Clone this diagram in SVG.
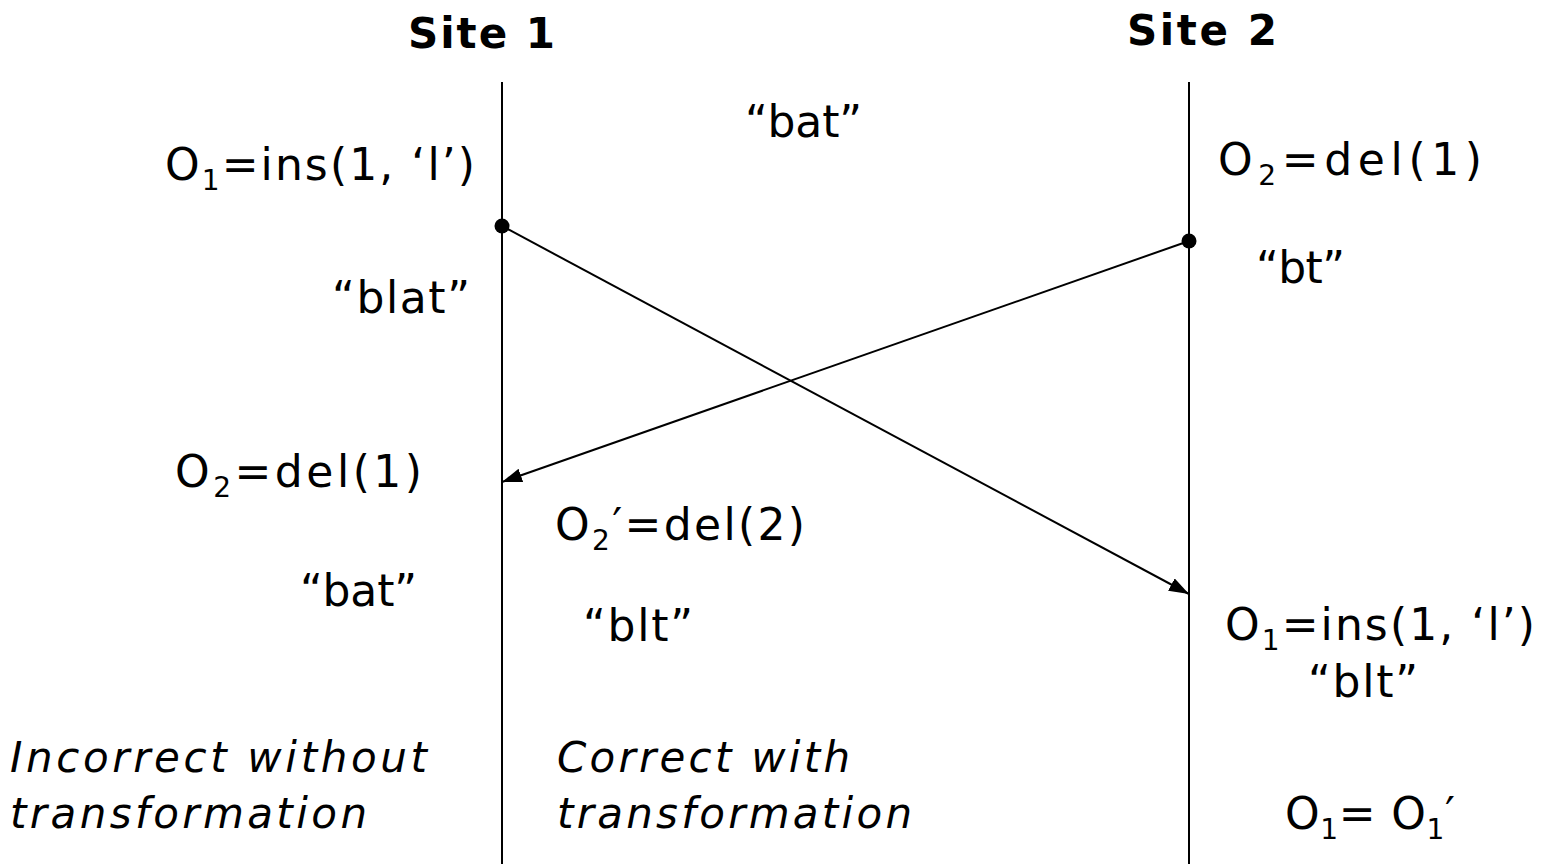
<svg xmlns="http://www.w3.org/2000/svg" width="1543" height="864" viewBox="0 0 1543 864">
  <defs>
    <marker id="arrow" viewBox="0 0 20 14" refX="20" refY="7" markerWidth="20" markerHeight="14" markerUnits="userSpaceOnUse" orient="auto">
      <path d="M0,0 L20,7 L0,14 Z" fill="#000"/>
    </marker>
    <style>
      text { font-family: "DejaVu Sans", Verdana, sans-serif; font-size: 44px; fill: #000; }
      .title { font-weight: bold; font-size: 42px; }
      .note { font-style: italic; font-size: 42px; }
      .sub { font-size: 28px; }
      .timeline { stroke: #000; stroke-width: 2; }
      .msg { stroke: #000; stroke-width: 2; fill: none; marker-end: url(#arrow); }
    </style>
  </defs>
  <rect width="1543" height="864" fill="#fff"/>

  <!-- site timelines -->
  <g id="site1">
    <text class="title" x="408" y="48" textLength="147">Site 1</text>
    <line class="timeline" x1="502" y1="82" x2="502" y2="864"/>
    <circle cx="502" cy="226" r="7.5"/>
  </g>
  <g id="site2">
    <text class="title" x="1127" y="45" textLength="150">Site 2</text>
    <line class="timeline" x1="1189" y1="82" x2="1189" y2="864"/>
    <circle cx="1189" cy="241" r="7.5"/>
  </g>

  <!-- messages between sites -->
  <g id="connectors">
    <line class="msg" x1="502" y1="226" x2="1189" y2="594"/>
    <line class="msg" x1="1189" y1="241" x2="502" y2="482"/>
  </g>

  <g id="initial-state">
    <text x="745" y="137" textLength="117">“bat”</text>
  </g>

  <!-- site 1 side -->
  <g id="site1-ops">
    <text x="165" y="180" textLength="310">O<tspan class="sub" dy="10">1</tspan><tspan dy="-10">=ins(1, ‘l’)</tspan></text>
    <text x="332" y="313" textLength="138">“blat”</text>
    <text x="175" y="487" textLength="247">O<tspan class="sub" dy="10">2</tspan><tspan dy="-10">=del(1)</tspan></text>
    <text x="300" y="606" textLength="117">“bat”</text>
    <text class="note" x="10" y="772" textLength="417">Incorrect without</text>
    <text class="note" x="10" y="828" textLength="357">transformation</text>
  </g>

  <!-- transformed result at site 1 -->
  <g id="site1-transformed">
    <text x="555" y="540" textLength="250">O<tspan class="sub" dy="10">2</tspan><tspan dy="-10">′=del(2)</tspan></text>
    <text x="583" y="641" textLength="110">“blt”</text>
    <text class="note" x="557" y="772" textLength="293">Correct with</text>
    <text class="note" x="557" y="828" textLength="355">transformation</text>
  </g>

  <!-- site 2 side -->
  <g id="site2-ops">
    <text x="1218" y="175" textLength="264">O<tspan class="sub" dy="10">2</tspan><tspan dy="-10">=del(1)</tspan></text>
    <text x="1256" y="283" textLength="89">“bt”</text>
    <text x="1225" y="640" textLength="310">O<tspan class="sub" dy="10">1</tspan><tspan dy="-10">=ins(1, ‘l’)</tspan></text>
    <text x="1308" y="697" textLength="110">“blt”</text>
    <text x="1285" y="829" textLength="170">O<tspan class="sub" dy="10">1</tspan><tspan dy="-10">= O</tspan><tspan class="sub" dy="10">1</tspan><tspan dy="-10">′</tspan></text>
  </g>
</svg>
